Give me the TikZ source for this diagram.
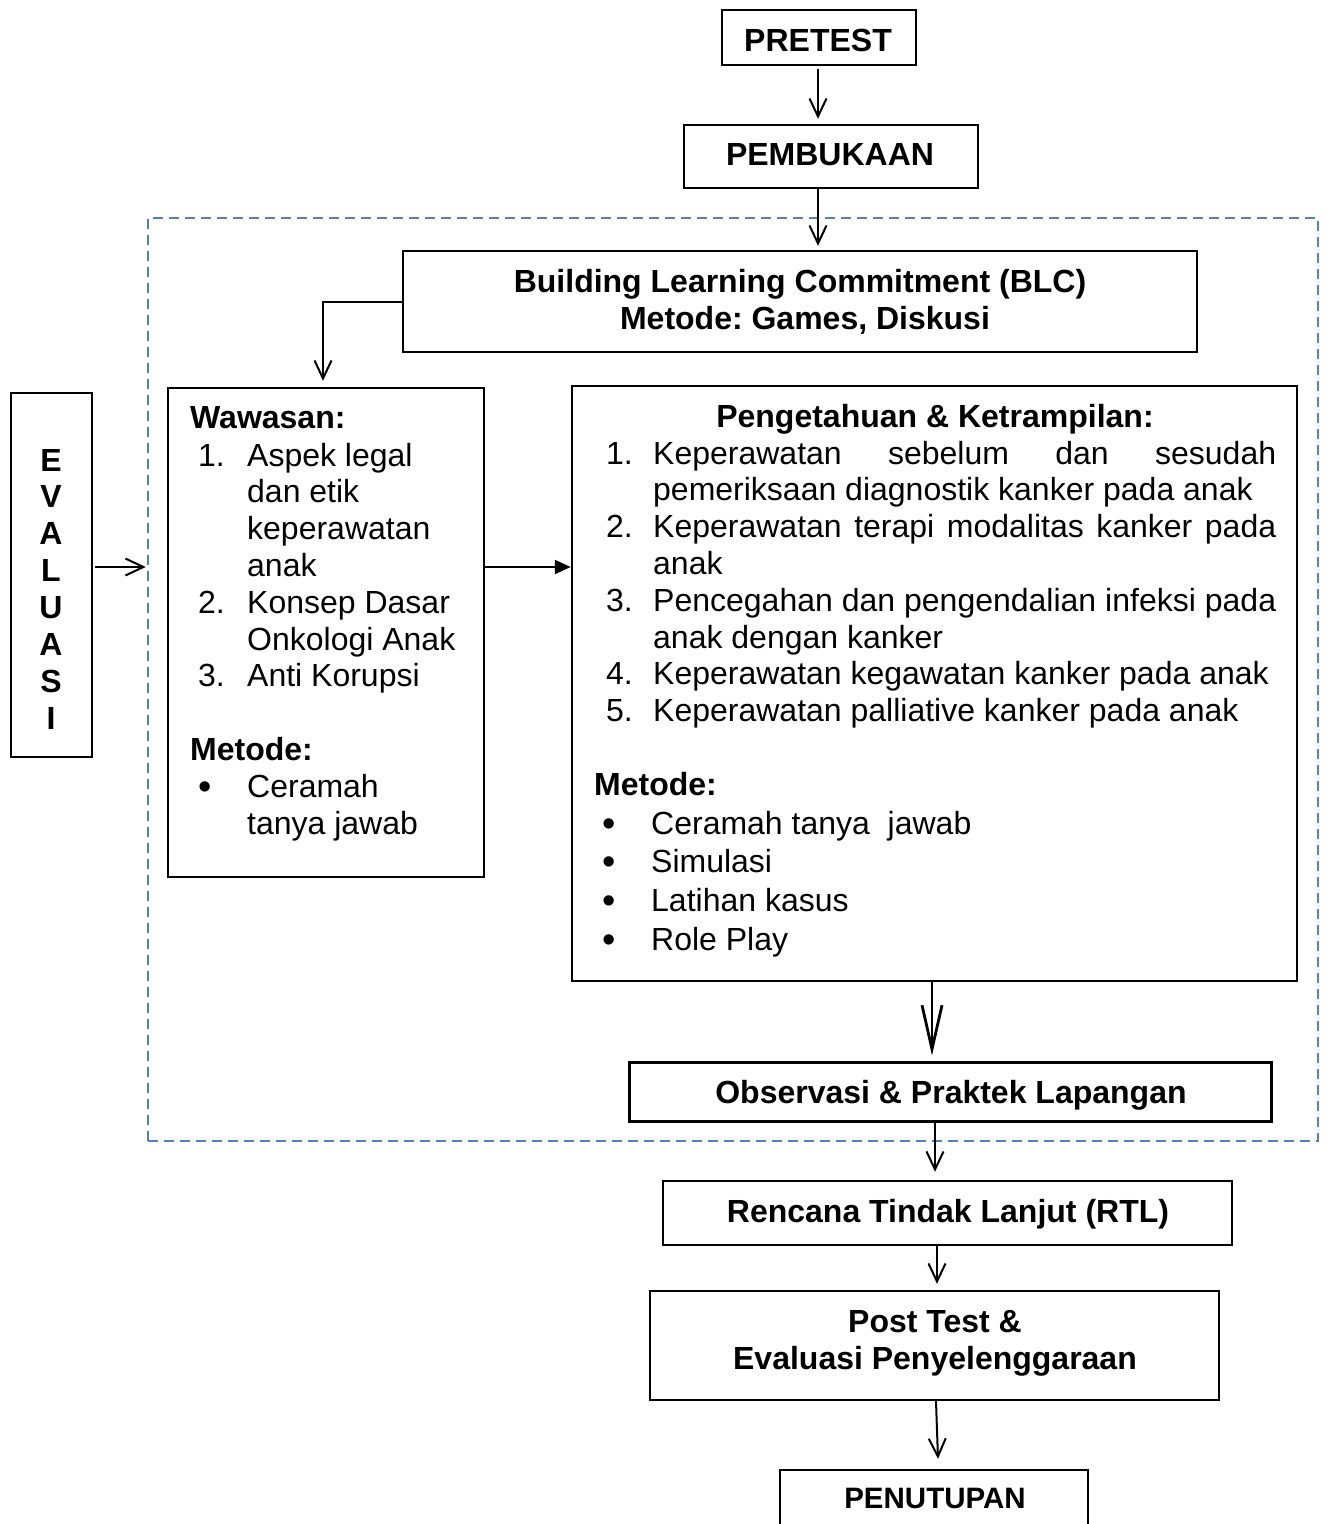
\documentclass[tikz,border=0pt]{standalone}
\usepackage{fontspec}
\setmainfont{Liberation Sans}
\usetikzlibrary{arrows.meta,fit}
\definecolor{dashblue}{RGB}{79,129,189}
\frenchspacing
\begin{document}
\begin{tikzpicture}[x=1pt,y=-1pt,
  box/.style={draw=black,line width=2.4pt,inner sep=0pt},
  txt/.style={inner sep=0pt,anchor=base,font=\fontsize{32}{37}\selectfont},
  txtb/.style={txt,font=\fontsize{32}{37}\selectfont\bfseries},
  ltxt/.style={txt,anchor=base west},
  ltxtb/.style={txtb,anchor=base west},
  bul/.style={txt,font=\fontsize{38}{37}\selectfont},
  arr/.style={line width=2pt,-{Straight Barb[length=18pt,width=17pt,line width=2pt]}},
  bigarr/.style={line width=2.8pt,-{Straight Barb[length=44pt,width=20pt,line width=2.8pt]}},
  farr/.style={line width=2pt,-{Triangle[length=16pt,width=14pt]}}
]
\useasboundingbox (0,0) rectangle (1326,1524);
\clip (0,0) rectangle (1326,1524);
\fill[white] (0,0) rectangle (1326,1524);

% dashed frame
\node[draw=dashblue,dash pattern=on 10pt off 6pt,line width=2.5pt,inner sep=0pt,fit={(148,218)(1318,1141)}] (frame) {};

% boxes
\node[box,fit={(722,10)(916,65)}] (pre) {};
\node[box,fit={(684,125)(978,188)}] (pemb) {};
\node[box,fit={(403,251)(1197,352)}] (blc) {};
\node[box,fit={(11,393)(92,757)}] (eva) {};
\node[box,fit={(168,388)(484,877)}] (waw) {};
\node[box,fit={(572,386)(1297,981)}] (peng) {};
\node[box,line width=3pt,fit={(629,1062)(1271,1121)}] (obs) {};
\node[box,fit={(663,1181)(1232,1245)}] (rtl) {};
\node[box,fit={(650,1291)(1219,1400)}] (post) {};
\node[box,fit={(780,1470)(1088,1560)}] (pen) {};

% box texts
\node[txtb] (tpre) at (818,51) {PRETEST};
\node[txtb] (tpemb) at (830,165) {PEMBUKAAN};
\node[txtb] (tblc1) at (800,292) {Building Learning Commitment (BLC)};
\node[txtb] (tblc2) at (805,329) {Metode: Games, Diskusi};
\node[txtb] (tobs) at (951,1103) {Observasi \& Praktek Lapangan};
\node[txtb] (trtl) at (948,1222) {Rencana Tindak Lanjut (RTL)};
\node[txtb] (tpost1) at (935,1332) {Post Test \&};
\node[txtb] (tpost2) at (935,1369) {Evaluasi Penyelenggaraan};
\node[txtb,font=\fontsize{29.5}{34}\selectfont\bfseries] (tpen) at (935,1508) {PENUTUPAN};

% EVALUASI
\foreach \l [count=\i from 0] in {E,V,A,L,U,A,S,I}
  \node[txtb] (ev\i) at (51,471+36.9*\i) {\l};

% Wawasan box text
\node[ltxtb] (w0) at (190,428) {Wawasan:};
\node[ltxt] (wn1) at (198,466) {1.};
\node[ltxt] (w1) at (247,466) {Aspek legal};
\node[ltxt] (w2) at (247,502.8) {dan etik};
\node[ltxt] (w3) at (247,539.6) {keperawatan};
\node[ltxt] (w4) at (247,576.4) {anak};
\node[ltxt] (wn2) at (198,613.2) {2.};
\node[ltxt] (w5) at (247,613.2) {Konsep Dasar};
\node[ltxt] (w6) at (247,650) {Onkologi Anak};
\node[ltxt] (wn3) at (198,686.8) {3.};
\node[ltxt] (w7) at (247,686.8) {Anti Korupsi};
\node[ltxtb] (wm) at (190,760.4) {Metode:};
\node[bul] (wb1) at (205,799) {•};
\node[ltxt] (w8) at (247,797.2) {Ceramah};
\node[ltxt] (w9) at (247,834) {tanya jawab};

% Pengetahuan box text
\node[txtb] (p0) at (935,427) {Pengetahuan \& Ketrampilan:};
\node[ltxt] (pn1) at (606,464) {1.};
\node[ltxt] (p1) at (653,464) {\makebox[623pt][s]{Keperawatan\hfill sebelum\hfill dan\hfill sesudah}};
\node[ltxt] (p2) at (653,500.8) {pemeriksaan diagnostik kanker pada anak};
\node[ltxt] (pn2) at (606,537.6) {2.};
\node[ltxt] (p3) at (653,537.6) {\makebox[623pt][s]{Keperawatan\hfill terapi\hfill modalitas\hfill kanker\hfill pada}};
\node[ltxt] (p4) at (653,574.4) {anak};
\node[ltxt] (pn3) at (606,611.2) {3.};
\node[ltxt] (p5) at (653,611.2) {\makebox[623pt][s]{Pencegahan\hfill dan\hfill pengendalian\hfill infeksi\hfill pada}};
\node[ltxt] (p6) at (653,648) {anak dengan kanker};
\node[ltxt] (pn4) at (606,684.8) {4.};
\node[ltxt] (p7) at (653,684.8) {Keperawatan kegawatan kanker pada anak};
\node[ltxt] (pn5) at (606,721.6) {5.};
\node[ltxt] (p8) at (653,721.6) {Keperawatan palliative kanker pada anak};
\node[ltxtb] (pm) at (594,795.2) {Metode:};
\node[bul] (pb1) at (609,836) {•};
\node[ltxt] (p9) at (651,834) {Ceramah tanya\ \ jawab};
\node[bul] (pb2) at (609,874.7) {•};
\node[ltxt] (p10) at (651,872.7) {Simulasi};
\node[bul] (pb3) at (609,913.4) {•};
\node[ltxt] (p11) at (651,911.4) {Latihan kasus};
\node[bul] (pb4) at (609,952.1) {•};
\node[ltxt] (p12) at (651,950.1) {Role Play};

% connectors
\coordinate (c1) at (818,0);
\coordinate (ly) at (0,567);
\draw[arr] ([yshift=-3pt]pre.south -| c1) -- ([yshift=5pt]pemb.north -| c1);
\draw[arr] (pemb.south -| c1) -- ([yshift=4pt]blc.north -| c1);
\draw[arr] (blc.west) -| ([yshift=6pt]waw.north -| 323,0);
\draw[arr] ([xshift=2pt]eva.east |- ly) -- ([xshift=-1pt]frame.west |- ly);
\draw[farr] (waw.east |- ly) -- (peng.west |- ly);
\draw[bigarr] (peng.south -| 932,0) -- ([yshift=5pt]obs.north -| 932,0);
\draw[arr] (obs.south -| 935,0) -- ([yshift=8pt]rtl.north -| 935,0);
\draw[arr] (rtl.south -| 937,0) -- ([yshift=6pt]post.north -| 937,0);
\draw[arr] (post.south -| 936,0) -- ([yshift=10pt]pen.north -| 938,0);
\end{tikzpicture}
\end{document}
